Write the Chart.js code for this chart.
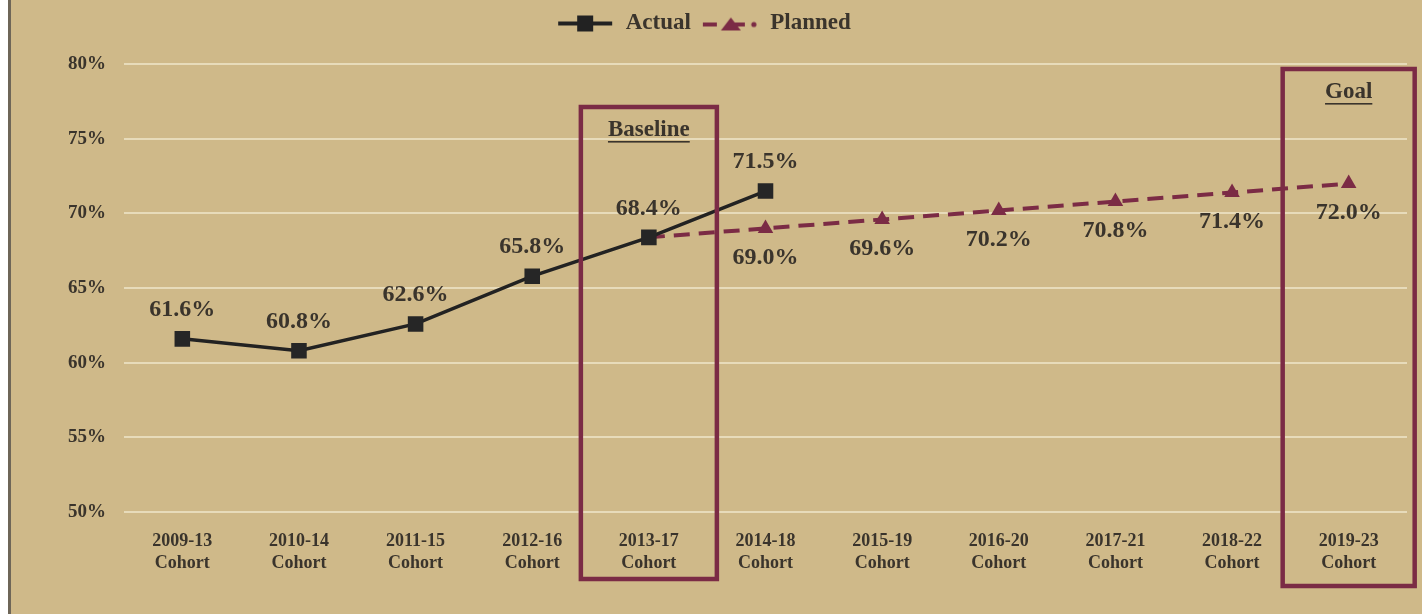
<!DOCTYPE html>
<html>
<head>
<meta charset="utf-8">
<script src="https://cdn.jsdelivr.net/npm/chart.js@4/dist/chart.umd.min.js"></script>
<style>
  html,body{margin:0;padding:0;background:#fff;}
  #wrap{position:relative;width:1422px;height:614px;background:#CFB989;}
  #edge{position:absolute;left:0;top:0;width:8px;height:614px;background:#fff;border-right:3px solid #6e6658;}
  canvas{position:absolute;left:0;top:0;}
</style>
</head>
<body>
<div id="wrap"><div id="edge"></div><canvas id="c" width="1422" height="614"></canvas></div>
<script>
const cohorts=['2009-13','2010-14','2011-15','2012-16','2013-17','2014-18','2015-19','2016-20','2017-21','2018-22','2019-23'];
const actual=[61.6,60.8,62.6,65.8,68.4,71.5,null,null,null,null,null];
const planned=[null,null,null,null,68.4,69.0,69.6,70.2,70.8,71.4,72.0];
const yTicks=[50,55,60,65,70,75,80];

const maroon='#7B2B45', ink='#3a342c', serif='"Liberation Serif", "Times New Roman", serif';
const plannedStart=planned.findIndex(v=>v!=null);

function legendIcon(kind){
  const cv=document.createElement('canvas');cv.width=58;cv.height=22;
  const g=cv.getContext('2d');
  if(kind==='actual'){
    g.strokeStyle='#222';g.lineWidth=4;
    g.beginPath();g.moveTo(2,11);g.lineTo(56,11);g.stroke();
    g.fillStyle='#222';g.fillRect(21,3,16,16);
  }else{
    g.fillStyle=maroon;g.strokeStyle=maroon;g.lineWidth=4;
    g.beginPath();g.moveTo(2,12);g.lineTo(16,12);g.stroke();
    g.beginPath();g.moveTo(20,18);g.lineTo(30,5);g.lineTo(40,18);g.closePath();g.fill();
    g.beginPath();g.moveTo(30,12);g.lineTo(44,12);g.stroke();
    g.beginPath();g.arc(53,12,2.6,0,Math.PI*2);g.fill();
  }
  return cv;
}

// value labels above actual, below planned
const valueLabels={
  id:'valueLabels',
  afterDatasetsDraw(chart){
    const ctx=chart.ctx;
    ctx.save();
    ctx.font='bold 24px '+serif;ctx.fillStyle=ink;ctx.textAlign='center';ctx.textBaseline='middle';
    chart.data.datasets.forEach((ds,di)=>{
      const meta=chart.getDatasetMeta(di);
      meta.data.forEach((pt,i)=>{
        const v=ds.data[i];
        if(v==null) return;
        if(di===1 && i===plannedStart) return;
        const dy=di===0?-29:29;
        ctx.fillText(v.toFixed(1)+'%',pt.x,pt.y+dy);
      });
    });
    ctx.restore();
  }
};

// Baseline / Goal boxes
const boxes={
  id:'boxes',
  afterDraw(chart){
    const ctx=chart.ctx, x=chart.scales.x;
    const list=[{i:4,text:'Baseline',top:107,bottom:579,half:68,ty:130},{i:10,text:'Goal',top:69,bottom:586,half:66,ty:92}];
    ctx.save();
    list.forEach(b=>{
      const cx=x.getPixelForValue(b.i);
      ctx.strokeStyle=maroon;ctx.lineWidth=4.5;
      ctx.strokeRect(cx-b.half,b.top,b.half*2,b.bottom-b.top);
      ctx.font='bold 23px '+serif;ctx.fillStyle=ink;ctx.textAlign='center';ctx.textBaseline='middle';
      ctx.fillText(b.text,cx,b.ty);
      const w=ctx.measureText(b.text).width;
      ctx.fillRect(cx-w/2,b.ty+11,w,1.6);
    });
    ctx.restore();
  }
};

new Chart(document.getElementById('c'),{
  type:'line',
  data:{
    labels:cohorts.map(c=>[c,'Cohort']),
    datasets:[
      {label:'Actual',data:actual,borderColor:'#222',backgroundColor:'#222',borderWidth:3.5,
       pointStyle:'rect',pointRadius:11,pointHoverRadius:11,pointBackgroundColor:'#262626',pointBorderWidth:0,spanGaps:false},
      {label:'Planned',data:planned,borderColor:maroon,backgroundColor:maroon,borderWidth:4,borderDash:[16,9],
       pointStyle:'triangle',pointRadius:planned.map((v,i)=>i===plannedStart?0:9),pointBorderWidth:0,pointBackgroundColor:maroon}
    ]
  },
  options:{
    responsive:false,animation:false,
    layout:{padding:{top:2,right:15,left:0,bottom:0}},
    plugins:{
      legend:{position:'top',weight:3000,
        labels:{usePointStyle:true,pointStyleWidth:58,padding:10,color:ink,font:{family:serif,size:23,weight:'bold'},
          generateLabels:(ch)=>ch.data.datasets.map((d,i)=>({text:d.label,pointStyle:legendIcon(i===0?'actual':'planned'),
            fillStyle:d.borderColor,strokeStyle:d.borderColor,lineWidth:0,fontColor:ink,datasetIndex:i,hidden:false}))}},
      subtitle:{display:true,text:'',padding:{top:18,bottom:0},font:{size:1}},
      tooltip:{enabled:false}
    },
    scales:{
      x:{offset:true,grid:{display:false},border:{display:false},
        ticks:{color:ink,padding:10,font:{family:serif,size:18,weight:'bold',lineHeight:1.25},maxRotation:0,autoSkip:false},
        afterFit:(s)=>{s.height=102;}},
      y:{min:50,max:80,
        afterBuildTicks:(s)=>{s.ticks=yTicks.map(v=>({value:v}));},
        grid:{color:'#E7DBBA',lineWidth:2,drawTicks:false},border:{display:false},
        ticks:{color:ink,padding:18,font:{family:serif,size:19,weight:'bold'},callback:v=>v+'%'},
        afterFit:(s)=>{s.width=124;}}
    }
  },
  plugins:[valueLabels,boxes]
});
</script>
</body>
</html>
